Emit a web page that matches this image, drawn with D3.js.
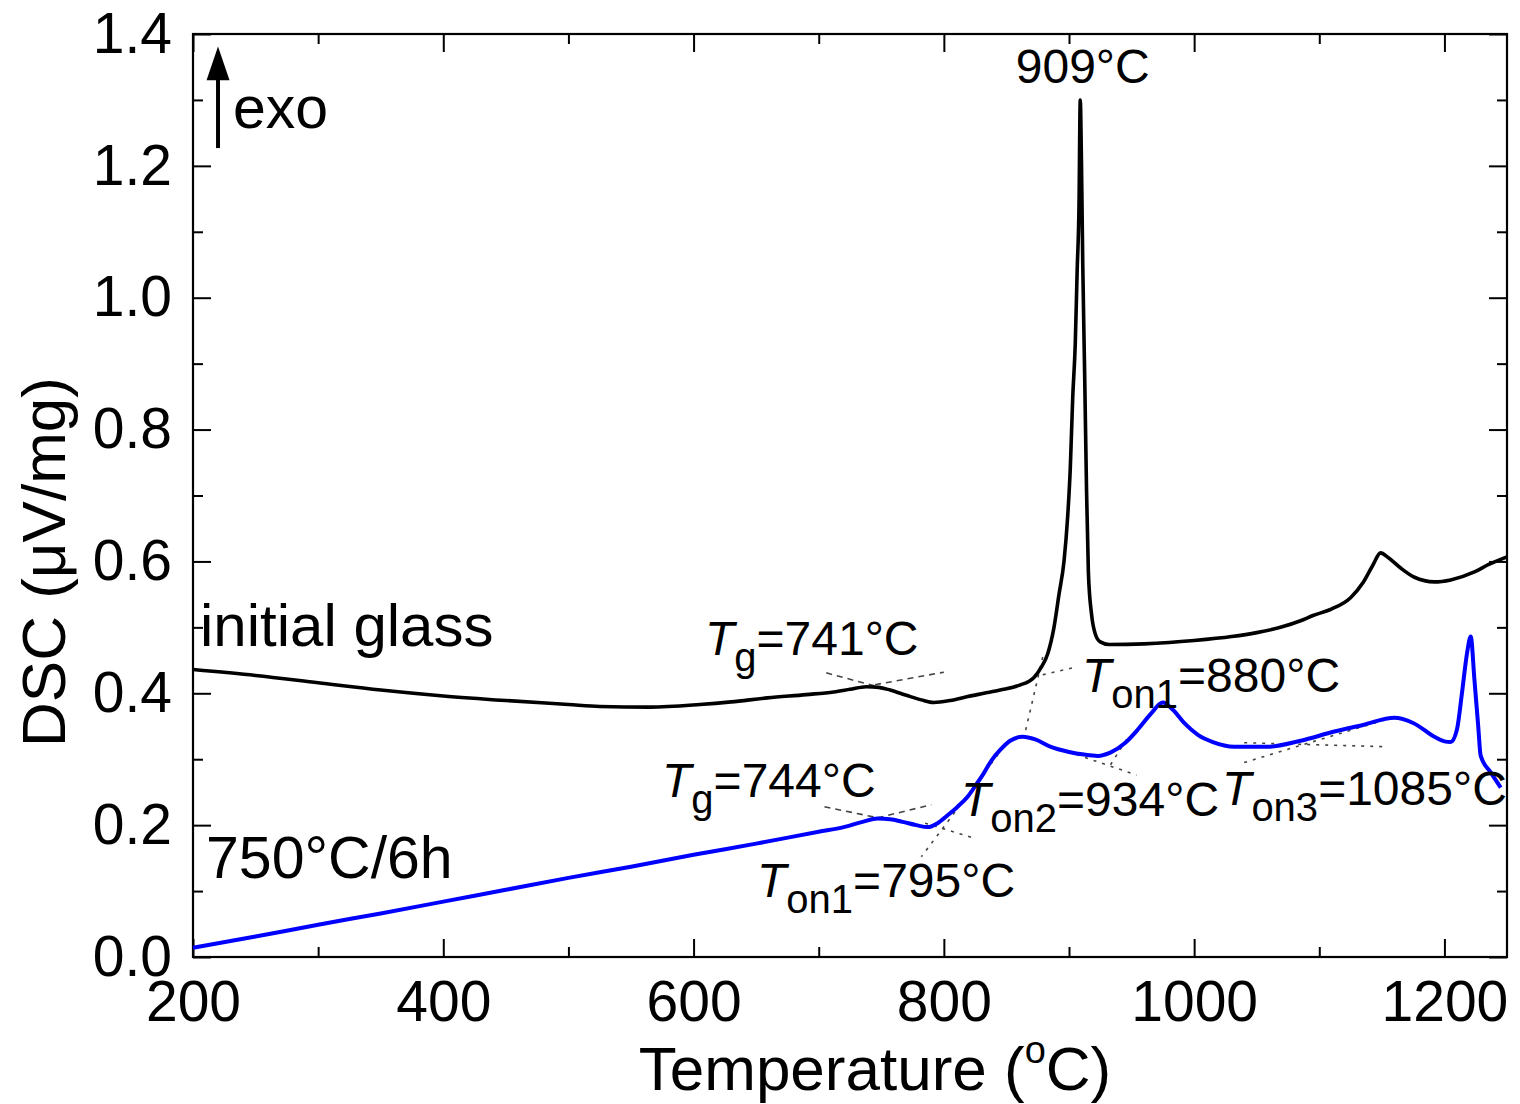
<!DOCTYPE html>
<html>
<head>
<meta charset="utf-8">
<script src="https://cdn.jsdelivr.net/npm/d3@7"></script>
<style>
  html, body { margin: 0; padding: 0; background: #fff; }
  svg { display: block; }
  text { font-family: "Liberation Sans", Arial, Helvetica, sans-serif; fill: #000; }
</style>
</head>
<body>
<svg id="chart" width="1520" height="1104"></svg>
<script>
// ---- DSC traces: temperature (°C) and heat flow (µV/mg) ----
const glassTemp = [200, 250, 300, 350, 400, 450, 500, 525, 565, 605, 630, 659, 690, 712, 725, 738, 748, 757, 770, 782, 792, 805, 819, 832, 845, 860, 872, 878, 883, 888, 892, 896, 899, 901, 903, 905, 906.5, 908, 909, 910, 911, 912.5, 914, 915.5, 918, 921, 925, 932, 960, 980, 1000, 1030, 1050, 1069, 1085, 1095, 1110, 1125, 1135, 1143, 1149, 1155, 1165, 1176, 1192, 1205, 1224, 1235, 1250];
const glassDsc = [0.436, 0.427, 0.416, 0.405, 0.396, 0.389, 0.383, 0.380, 0.379, 0.383, 0.387, 0.393, 0.398, 0.402, 0.406, 0.410, 0.409, 0.405, 0.397, 0.390, 0.386, 0.389, 0.395, 0.400, 0.405, 0.412, 0.424, 0.440, 0.460, 0.500, 0.550, 0.600, 0.670, 0.740, 0.850, 0.930, 1.040, 1.140, 1.300, 1.200, 1.050, 0.885, 0.710, 0.583, 0.520, 0.490, 0.478, 0.474, 0.475, 0.477, 0.480, 0.486, 0.492, 0.500, 0.510, 0.518, 0.528, 0.545, 0.568, 0.595, 0.613, 0.606, 0.590, 0.576, 0.569, 0.572, 0.584, 0.595, 0.607];

const annealedTemp = [200, 250, 300, 350, 400, 450, 500, 550, 600, 650, 700, 720, 735, 747, 757, 767, 778, 787, 795, 803, 811, 819, 826, 832, 838, 845, 853, 863, 873, 885, 900, 912, 923, 933, 945, 955, 965, 975, 983, 992, 1003, 1015, 1032, 1059, 1085, 1112, 1135, 1160, 1175, 1192, 1200, 1205, 1210, 1214, 1218, 1221, 1224, 1227, 1229, 1237, 1245];
const annealedDsc = [0.014, 0.031, 0.049, 0.066, 0.084, 0.102, 0.120, 0.137, 0.155, 0.172, 0.190, 0.197, 0.205, 0.210, 0.209, 0.205, 0.200, 0.197, 0.203, 0.215, 0.228, 0.243, 0.262, 0.279, 0.298, 0.314, 0.328, 0.334, 0.330, 0.319, 0.311, 0.307, 0.305, 0.310, 0.325, 0.345, 0.368, 0.386, 0.375, 0.355, 0.337, 0.326, 0.319, 0.319, 0.328, 0.342, 0.352, 0.363, 0.355, 0.334, 0.327, 0.326, 0.345, 0.400, 0.460, 0.486, 0.420, 0.350, 0.305, 0.280, 0.257];

// ---- axis ticks ----
const xMajorTicks = [200, 400, 600, 800, 1000, 1200];
const xMinorTicks = [300, 500, 700, 900, 1100];
const yMajorTicks = [0.0, 0.2, 0.4, 0.6, 0.8, 1.0, 1.2, 1.4];
const yMinorTicks = [0.1, 0.3, 0.5, 0.7, 0.9, 1.1, 1.3];

// ---- characteristic temperatures ----
const crystallisationPeak = 909;
const eventSubscripts = ["g", "on1", "g", "on1", "on2", "on3"];
const eventTemps = [741, 880, 744, 795, 934, 1085];
const sampleNames = ["initial glass", "750°C/6h"];

// construction lines (tangents / baseline extensions), [temperature, DSC] pairs
const glassTgLines = [[[706, 0.431], [745, 0.411]], [[745, 0.413], [800, 0.432]]];
const glassOnsetLines = [[[879, 0.455], [864.5, 0.337]], [[872, 0.425], [904, 0.439]]];
const annealedTgLines = [[[704.6, 0.228], [750, 0.210]], [[747, 0.211], [790, 0.231]]];
const annealedOnsetLines = [
  [[852, 0.329], [782, 0.152]], [[785, 0.203], [823, 0.181]],
  [[906, 0.307], [954, 0.276]], [[946, 0.330], [932, 0.288]],
  [[1040, 0.325], [1152, 0.319]], [[1040, 0.295], [1160, 0.364]]
];

// ---- layout ----
const plot = { left: 193, right: 1507, top: 34, bottom: 957 };
const svg = d3.select("#chart");

const x = d3.scaleLinear().domain([200, 1250]).range([plot.left, plot.right]);
const y = d3.scaleLinear().domain([0, 1.4]).range([plot.bottom, plot.top]);

// axes: inward ticks on all four sides, labels on bottom and left only
function drawAxis(axisGen, translate, ticks, size, withLabels, fmt) {
  const g = svg.append("g")
    .attr("transform", translate)
    .call(axisGen.tickValues(ticks).tickSize(-size)
      .tickFormat(withLabels ? fmt : () => ""));
  g.select(".domain").remove();
  g.selectAll(".tick line").attr("stroke", "#000").attr("stroke-width", 2);
  g.selectAll(".tick text").attr("font-size", 57).attr("fill", "#000")
    .attr("font-family", '"Liberation Sans", Arial, sans-serif');
  return g;
}
const fx = d3.format("d");
const fy = d3.format(".1f");

drawAxis(d3.axisBottom(x), `translate(0,${plot.bottom})`, xMinorTicks, 10, false);
drawAxis(d3.axisBottom(x).tickPadding(24), `translate(0,${plot.bottom})`, xMajorTicks, 18, true, fx);
drawAxis(d3.axisTop(x), `translate(0,${plot.top})`, xMinorTicks, 10, false);
drawAxis(d3.axisTop(x), `translate(0,${plot.top})`, xMajorTicks, 18, false);
drawAxis(d3.axisLeft(y), `translate(${plot.left},0)`, yMinorTicks, 10, false);
drawAxis(d3.axisLeft(y).tickPadding(21), `translate(${plot.left},0)`, yMajorTicks, 18, true, fy);
drawAxis(d3.axisRight(y), `translate(${plot.right},0)`, yMinorTicks, 10, false);
drawAxis(d3.axisRight(y), `translate(${plot.right},0)`, yMajorTicks, 18, false);

// frame
svg.append("rect")
  .attr("x", plot.left).attr("y", plot.top)
  .attr("width", plot.right - plot.left).attr("height", plot.bottom - plot.top)
  .attr("fill", "none").attr("stroke", "#000").attr("stroke-width", 2.2);

// axis titles
const xTitle = svg.append("text")
  .attr("x", 875).attr("y", 1090)
  .attr("text-anchor", "middle").attr("font-size", 62);
xTitle.append("tspan").text("Temperature (");
xTitle.append("tspan").attr("font-size", 38).attr("dy", -27).text("o");
xTitle.append("tspan").attr("dy", 27).text("C)");

svg.append("text")
  .attr("transform", "translate(65,562) rotate(-90)")
  .attr("text-anchor", "middle").attr("font-size", 62)
  .text("DSC (\u03BCV/mg)");

// construction lines
const seg = d3.line().x(d => x(d[0])).y(d => y(d[1]));
const guides = svg.append("g").attr("fill", "none").attr("stroke", "#444").attr("stroke-width", 1.6);
[...glassTgLines, ...annealedTgLines].forEach(l =>
  guides.append("path").attr("d", seg(l)).attr("stroke-dasharray", "6,5"));
[...glassOnsetLines, ...annealedOnsetLines].forEach(l =>
  guides.append("path").attr("d", seg(l)).attr("stroke-dasharray", "3,6"));

// traces
const trace = d3.line().x(d => x(d[0])).y(d => y(d[1])).curve(d3.curveMonotoneX);
svg.append("path")
  .datum(d3.zip(glassTemp, glassDsc))
  .attr("d", trace).attr("fill", "none")
  .attr("stroke", "#000").attr("stroke-width", 3.6).attr("stroke-linejoin", "round");
svg.append("path")
  .datum(d3.zip(annealedTemp, annealedDsc))
  .attr("d", trace).attr("fill", "none")
  .attr("stroke", "#0000ff").attr("stroke-width", 4).attr("stroke-linejoin", "round");

// exo arrow
const arrowT = 220;
svg.append("line")
  .attr("x1", x(arrowT)).attr("x2", x(arrowT))
  .attr("y1", y(1.227)).attr("y2", y(1.34))
  .attr("stroke", "#000").attr("stroke-width", 4);
svg.append("path")
  .attr("d", `M${x(arrowT)},${y(1.381)} L${x(arrowT) - 11.5},${y(1.330)} L${x(arrowT) + 11.5},${y(1.330)} Z`)
  .attr("fill", "#000");
svg.append("text").attr("x", x(232)).attr("y", y(1.2574)).attr("font-size", 59).text("exo");

// sample names
svg.append("text").attr("x", x(205.6)).attr("y", y(0.4717)).attr("font-size", 60).text(sampleNames[0]);
svg.append("text").attr("x", x(210.4)).attr("y", y(0.1198)).attr("font-size", 59).text(sampleNames[1]);

// crystallisation peak label
svg.append("text").attr("x", x(crystallisationPeak + 2)).attr("y", y(1.3257))
  .attr("text-anchor", "middle").attr("font-size", 48)
  .text(`${crystallisationPeak}°C`);

// characteristic temperature labels
const eventAnchors = [[609.1, 0.458], [910.4, 0.402], [574.8, 0.2427], [650.7, 0.091], [813.7, 0.2139], [1022.3, 0.2305]];
eventTemps.forEach((t, i) => {
  const [ax, ay] = eventAnchors[i];
  const txt = svg.append("text").attr("x", x(ax)).attr("y", y(ay)).attr("font-size", 48);
  txt.append("tspan").attr("font-style", "italic").text("T");
  txt.append("tspan").attr("font-size", 40).attr("dy", 16).text(eventSubscripts[i]);
  txt.append("tspan").attr("dy", -16).text(`=${t}°C`);
});
</script>
</body>
</html>
